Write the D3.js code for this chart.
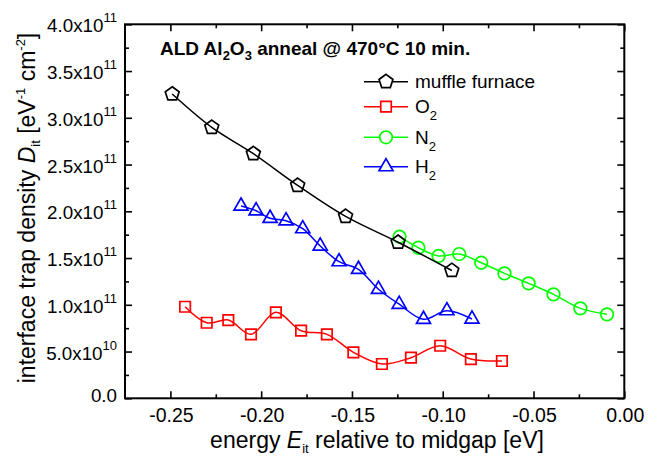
<!DOCTYPE html>
<html>
<head>
<meta charset="utf-8">
<script src="https://cdn.jsdelivr.net/npm/d3@7/dist/d3.min.js"></script>
<style>
  html, body { margin: 0; padding: 0; background: #fff; }
  svg { display: block; font-family: "Liberation Sans", Arial, sans-serif; }
</style>
</head>
<body>
<svg id="chart" width="652" height="457"></svg>
<script>
// Interface trap density vs. energy for ALD Al2O3 after different anneals (values in 1e11 eV^-1 cm^-2)
const muffleE = [-0.249, -0.2272, -0.2043, -0.1799, -0.1535, -0.1246, -0.095];
const muffleD = [3.254, 2.897, 2.616, 2.277, 1.945, 1.669, 1.367];

const o2E = [-0.2419, -0.2300, -0.2181, -0.2056, -0.1919, -0.1780, -0.1638, -0.1492, -0.1335, -0.1175, -0.1014, -0.0845, -0.0674];
const o2D = [0.979, 0.808, 0.837, 0.684, 0.920, 0.723, 0.684, 0.492, 0.367, 0.434, 0.562, 0.420, 0.399];

const n2E = [-0.1238, -0.1134, -0.1023, -0.0909, -0.0788, -0.0660, -0.0527, -0.0390, -0.0242, -0.0095];
const n2D = [1.728, 1.610, 1.522, 1.543, 1.450, 1.336, 1.229, 1.112, 0.962, 0.898];

const h2E = [-0.2111, -0.2028, -0.1951, -0.1863, -0.1771, -0.1675, -0.1571, -0.1464, -0.1354, -0.1240, -0.1106, -0.0977, -0.0839];
const h2D = [2.056, 2.006, 1.925, 1.899, 1.814, 1.629, 1.461, 1.379, 1.166, 1.006, 0.845, 0.937, 0.848];

const seriesNames = ["muffle furnace", "O", "N", "H"];
const seriesSubs = ["", "2", "2", "2"];

const xMajorTicks = [-0.25, -0.20, -0.15, -0.10, -0.05, 0.00];
const xMinorTicks = [-0.225, -0.175, -0.125, -0.075, -0.025];
const yMajorTicks = [0, 0.5e11, 1.0e11, 1.5e11, 2.0e11, 2.5e11, 3.0e11, 3.5e11, 4.0e11];
const yMinorTicks = [0.25e11, 0.75e11, 1.25e11, 1.75e11, 2.25e11, 2.75e11, 3.25e11, 3.75e11];

const UNIT = 1e11;

const svg = d3.select("#chart");
svg.append("rect").attr("width", 652).attr("height", 457).attr("fill", "#fff");

const L = 125, R = 624.3, T = 24.3, B = 398.3;
const x = d3.scaleLinear().domain([-0.275, 0]).range([L, R]);
const y = d3.scaleLinear().domain([0, 4e11]).range([B, T]);

// ---- axes: inward ticks on all four sides ----
const MAJ = 7, MIN = 4;
function addAxis(axisFn, scale, pos, values, size) {
  const g = svg.append("g")
    .attr("transform", pos)
    .call(axisFn(scale).tickValues(values).tickSizeInner(-size).tickSizeOuter(0).tickFormat(""));
  g.select(".domain").remove();
  g.selectAll(".tick line").attr("stroke", "#000").attr("stroke-width", 1.6);
  return g;
}
addAxis(d3.axisBottom, x, `translate(0,${B})`, xMajorTicks, MAJ);
addAxis(d3.axisBottom, x, `translate(0,${B})`, xMinorTicks, MIN);
addAxis(d3.axisTop, x, `translate(0,${T})`, xMajorTicks, MAJ);
addAxis(d3.axisTop, x, `translate(0,${T})`, xMinorTicks, MIN);
addAxis(d3.axisLeft, y, `translate(${L},0)`, yMajorTicks, MAJ);
addAxis(d3.axisLeft, y, `translate(${L},0)`, yMinorTicks, MIN);
addAxis(d3.axisRight, y, `translate(${R},0)`, yMajorTicks, MAJ);
addAxis(d3.axisRight, y, `translate(${R},0)`, yMinorTicks, MIN);

svg.append("rect")
  .attr("x", L).attr("y", T).attr("width", R - L).attr("height", B - T)
  .attr("fill", "none").attr("stroke", "#000").attr("stroke-width", 2);

// x tick labels
svg.append("g").selectAll("text").data(xMajorTicks).join("text")
  .attr("x", d => x(d) + 1)
  .attr("y", B + 23.4)
  .attr("text-anchor", "middle")
  .attr("font-size", 19.5)
  .attr("fill", "#000")
  .text(d => d.toFixed(2));

// y tick labels in "m.mx10^e" notation
const yl = svg.append("g").selectAll("text").data(yMajorTicks).join("text")
  .attr("x", 117)
  .attr("y", d => y(d) + (d === 0 ? 3.5 : 8))
  .attr("text-anchor", "end")
  .attr("font-size", 18.8)
  .attr("fill", "#000");
yl.each(function (d) {
  const t = d3.select(this);
  if (d === 0) { t.text("0.0"); return; }
  const e = Math.floor(Math.log10(d) + 1e-9);
  const m = d / Math.pow(10, e);
  t.append("tspan").text(m.toFixed(1) + "x10");
  t.append("tspan").attr("font-size", 13).attr("dy", -10).text(String(e));
});

// ---- series ----
const pentagon = (r) => {
  const pts = d3.range(5).map(i => {
    const a = -Math.PI / 2 + i * 2 * Math.PI / 5;
    return [r * Math.cos(a), r * Math.sin(a)];
  });
  return "M" + pts.map(p => p.join(",")).join("L") + "Z";
};
const triangle = (s) => {
  const h = s * Math.sqrt(3) / 2;
  return `M0,${-2 * h / 3}L${s / 2},${h / 3}L${-s / 2},${h / 3}Z`;
};
const square = (s) => `M${-s / 2},${-s / 2}h${s}v${s}h${-s}Z`;
const circle = (r) => `M${r},0A${r},${r} 0 1,1 ${-r},0A${r},${r} 0 1,1 ${r},0Z`;

const series = [
  { key: "o2", E: o2E, D: o2D, color: "#ff0000", marker: square(10.5) },
  { key: "n2", E: n2E, D: n2D, color: "#00ff00", marker: circle(6.3) },
  { key: "h2", E: h2E, D: h2D, color: "#0000ff", marker: triangle(14) },
  { key: "muffle", E: muffleE, D: muffleD, color: "#000000", marker: pentagon(7.3) }
];

const line = d3.line()
  .x(d => x(d[0]))
  .y(d => y(d[1] * UNIT))
  .curve(d3.curveCatmullRom.alpha(0.5));

series.forEach(s => {
  const pts = s.E.map((e, i) => [e, s.D[i]]);
  const g = svg.append("g").attr("class", "series-" + s.key);
  g.append("path")
    .attr("d", line(pts))
    .attr("fill", "none")
    .attr("stroke", s.color)
    .attr("stroke-width", 1.5);
  g.selectAll("path.mk").data(pts).join("path")
    .attr("class", "mk")
    .attr("transform", d => `translate(${x(d[0])},${y(d[1] * UNIT)})`)
    .attr("d", s.marker)
    .attr("fill", "none")
    .attr("stroke", s.color)
    .attr("stroke-width", 1.7);
});

// ---- title ----
const title = svg.append("text")
  .attr("x", 160).attr("y", 55)
  .attr("font-size", 19).attr("font-weight", "bold").attr("fill", "#000");
title.append("tspan").text("ALD Al");
title.append("tspan").attr("font-size", 13).attr("dy", 5).text("2");
title.append("tspan").attr("dy", -5).text("O");
title.append("tspan").attr("font-size", 13).attr("dy", 5).text("3");
title.append("tspan").attr("dy", -5).text(" anneal @ 470°C 10 min.");

// ---- legend ----
const legendColors = ["#000000", "#ff0000", "#00ff00", "#0000ff"];
const legendMarkers = [pentagon(7.3), square(10.5), circle(6.3), triangle(14)];
const rowY = [81.7, 106.7, 137.3, 166.7];
const leg = svg.append("g");
seriesNames.forEach((name, i) => {
  const cy = rowY[i];
  leg.append("line")
    .attr("x1", 364).attr("x2", 408).attr("y1", cy).attr("y2", cy)
    .attr("stroke", legendColors[i]).attr("stroke-width", 1.5);
  leg.append("path")
    .attr("transform", `translate(386,${cy})`)
    .attr("d", legendMarkers[i])
    .attr("fill", "#fff")
    .attr("stroke", legendColors[i]).attr("stroke-width", 1.7);
  const t = leg.append("text")
    .attr("x", 415).attr("y", cy + 6.5)
    .attr("font-size", 19).attr("fill", "#000");
  t.append("tspan").text(name);
  if (seriesSubs[i]) t.append("tspan").attr("font-size", 13).attr("dy", 7).text(seriesSubs[i]);
});

// ---- axis titles ----
const xt = svg.append("text")
  .attr("x", 377).attr("y", 448)
  .attr("text-anchor", "middle")
  .attr("font-size", 23).attr("fill", "#000");
xt.append("tspan").text("energy ");
xt.append("tspan").attr("font-style", "italic").text("E");
xt.append("tspan").attr("font-size", 13).attr("dy", 5).text("it");
xt.append("tspan").attr("dy", -5).text(" relative to midgap [eV]");

const ytg = svg.append("g").attr("transform", "translate(35,208) rotate(-90)");
const yt = ytg.append("text")
  .attr("x", 0).attr("y", 0)
  .attr("text-anchor", "middle")
  .attr("font-size", 23).attr("fill", "#000");
yt.append("tspan").text("interface trap density ");
yt.append("tspan").attr("font-style", "italic").text("D");
yt.append("tspan").attr("font-size", 13).attr("dy", 5).text("it");
yt.append("tspan").attr("dy", -5).text(" [eV");
yt.append("tspan").attr("font-size", 13).attr("dy", -10).text("-1");
yt.append("tspan").attr("dy", 10).text(" cm");
yt.append("tspan").attr("font-size", 13).attr("dy", -10).text("-2");
yt.append("tspan").attr("dy", 10).text("]");
</script>
</body>
</html>
